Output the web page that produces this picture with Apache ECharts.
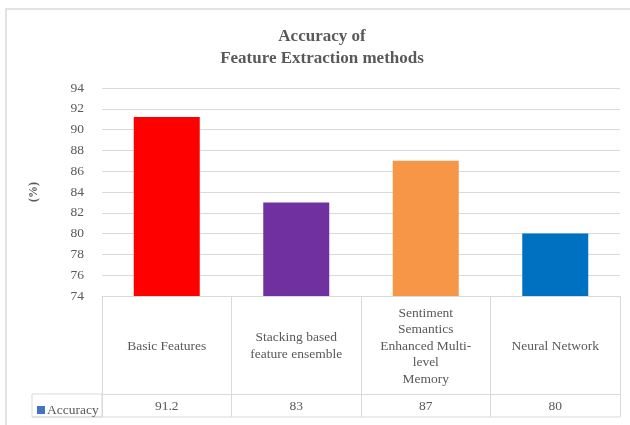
<!DOCTYPE html>
<html>
<head>
<meta charset="utf-8">
<script src="https://cdn.jsdelivr.net/npm/echarts@6/dist/echarts.min.js"></script>
<style>
  html, body { margin: 0; padding: 0; background: #fff; }
  #chart { width: 630px; height: 425px; }
</style>
</head>
<body>
<div id="chart"></div>
<script>
// data
var categories = [
  "Basic Features",
  "Stacking based\nfeature ensemble",
  "Sentiment\nSemantics\nEnhanced Multi-\nlevel\nMemory",
  "Neural Network"
];
var accuracy = [91.2, 83, 87, 80];
var barColors = ["#ff0000", "#7030a0", "#f79646", "#0070c0"];
var yTicks = { min: 74, max: 94, step: 2 };

var gray = "#595959";
var lineGray = "#d9d9d9";
var serif = "Liberation Serif";

var myChart = echarts.init(document.getElementById("chart"));
myChart.setOption({
  backgroundColor: "#fff",
  title: {
    text: "Accuracy of\nFeature Extraction methods",
    left: 317,
    textAlign: "center",
    top: 21,
    textStyle: {
      color: gray,
      fontFamily: serif,
      fontWeight: "bold",
      fontSize: 17,
      lineHeight: 22
    }
  },
  legend: {
    left: 32,
    top: 398,
    itemWidth: 8,
    itemHeight: 8,
    itemGap: 3,
    data: [{ name: "Accuracy", icon: "rect" }],
    textStyle: { color: gray, fontFamily: serif, fontSize: 13.5, padding: [0, 0, 0, -3] }
  },
  grid: {
    left: 102,
    right: 10,
    top: 88,
    bottom: 129
  },
  xAxis: [
    {
      type: "category",
      data: categories,
      position: "bottom",
      axisLine: { show: true, lineStyle: { color: lineGray, width: 1 } },
      axisTick: {
        show: true,
        inside: false,
        length: 121,
        alignWithLabel: false,
        lineStyle: { color: lineGray, width: 1 }
      },
      axisLabel: {
        interval: 0,
        margin: 50,
        verticalAlign: "middle",
        color: gray,
        fontFamily: serif,
        fontSize: 13.5,
        lineHeight: 16.5
      },
      splitLine: { show: false }
    },
    {
      type: "category",
      data: accuracy.map(function (v) { return String(v); }),
      position: "bottom",
      offset: 98,
      axisLine: { show: true, lineStyle: { color: lineGray, width: 1 } },
      axisTick: { show: false },
      axisLabel: {
        interval: 0,
        margin: 5,
        color: gray,
        fontFamily: serif,
        fontSize: 13.5
      }
    }
  ],
  yAxis: {
    type: "value",
    min: yTicks.min,
    max: yTicks.max,
    interval: yTicks.step,
    name: "(%)",
    nameLocation: "middle",
    nameGap: 62,
    nameRotate: 90,
    nameTextStyle: { color: gray, fontFamily: serif, fontWeight: "bold", fontSize: 12 },
    axisLine: { show: false },
    axisTick: { show: false },
    axisLabel: { color: gray, fontFamily: serif, fontSize: 13.5, margin: 18 },
    splitLine: { show: true, lineStyle: { color: lineGray, width: 1 } }
  },
  series: [
    {
      name: "Accuracy",
      type: "bar",
      xAxisIndex: 0,
      barWidth: 66,
      itemStyle: { color: "#4472c4" },
      data: accuracy.map(function (v, i) {
        return { value: v, itemStyle: { color: barColors[i] } };
      })
    }
  ],
  graphic: [
    {
      // outer chart border
      type: "rect",
      silent: true,
      shape: { x: 6, y: 9, width: 700, height: 500 },
      style: { fill: null, stroke: lineGray, lineWidth: 1.5 }
    },
    {
      // legend cell of the data table
      type: "rect",
      silent: true,
      shape: { x: 32, y: 394, width: 70, height: 23 },
      style: { fill: null, stroke: lineGray, lineWidth: 1 }
    },
    {
      // bottom border of the data table
      type: "line",
      silent: true,
      shape: { x1: 32, y1: 417, x2: 620, y2: 417 },
      style: { stroke: lineGray, lineWidth: 1 }
    }
  ]
});
</script>
</body>
</html>
